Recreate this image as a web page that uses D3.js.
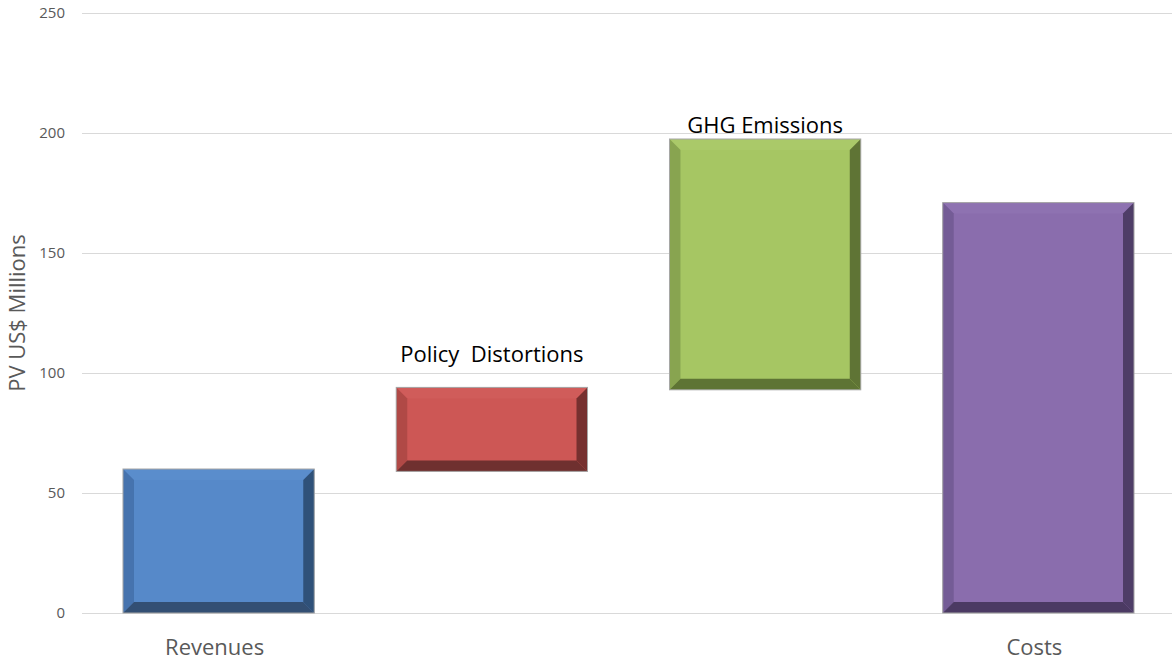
<!DOCTYPE html>
<html><head><meta charset="utf-8">
<script src="https://cdn.jsdelivr.net/npm/d3@7"></script>
<style>html,body{margin:0;padding:0;background:#fff;}svg{display:block;}</style>
</head><body>
<svg id="c" width="1172" height="662"></svg>
<script>
const categories = ["Revenues","Policy Distortions","GHG Emissions","Costs"];
const barStart = [0, 59, 93, 0];
const barEnd = [60, 94, 197.5, 171];
const yTicks = [0,50,100,150,200,250];
const axisLabels = ["Revenues","","","Costs"];
const topLabels = ["","Policy  Distortions","GHG Emissions",""];
const topLabelValues = [0, 104.5, 200, 0];
const faceColors = ["#5689C9","#CD5755","#A6C663","#8A6DAD"];
const topColors = ["#5A8DCC","#D05C5A","#AAC969","#8E72B1"];
const leftColors = ["#4673AE","#B04946","#88A450","#745C96"];
const rightColors = ["#2F5179","#76302F","#5F7435","#4E3D67"];
const bottomColors = ["#334F73","#6F302F","#5E7434","#4B3A63"];

const svg = d3.select("#c");
const x = d3.scaleBand().domain(categories).range([82,1175]).paddingInner(0.3).paddingOuter(0.15);
const y = d3.scaleLinear().domain([0,250]).range([613,13]);
const font = "'Open Sans', sans-serif";

// gridlines
svg.append("g").selectAll("line").data(yTicks).join("line")
  .attr("x1",82).attr("x2",1172)
  .attr("y1",d=>y(d)+0.5).attr("y2",d=>y(d)+0.5)
  .attr("stroke","#d9d9d9").attr("stroke-width",1);

// y tick labels
svg.append("g").selectAll("text").data(yTicks).join("text")
  .attr("x",65).attr("y",d=>y(d)+5)
  .attr("text-anchor","end")
  .attr("font-family",font).attr("font-size",15)
  .attr("fill","#595959").text(d=>d);

// y axis title
svg.append("text")
  .attr("transform","translate(25,313) rotate(-90)")
  .attr("text-anchor","middle")
  .attr("font-family",font).attr("font-size",22)
  .attr("fill","#595959").text("PV US$ Millions");

const b = 11;
const g = svg.append("g");
categories.forEach((c,i)=>{
  const x0 = x(c), x1 = x(c)+x.bandwidth();
  const yt = y(barEnd[i]), yb = y(barStart[i]);
  const grp = g.append("g");
  grp.append("rect").attr("x",x0).attr("y",yt).attr("width",x1-x0).attr("height",yb-yt).attr("fill",faceColors[i]);
  const poly = (pts,col)=>grp.append("polygon").attr("points",pts.map(p=>p.join(",")).join(" ")).attr("fill",col);
  poly([[x0,yt],[x1,yt],[x1-b,yt+b],[x0+b,yt+b]], topColors[i]);
  poly([[x0,yt],[x0+b,yt+b],[x0+b,yb-b],[x0,yb]], leftColors[i]);
  poly([[x1,yt],[x1,yb],[x1-b,yb-b],[x1-b,yt+b]], rightColors[i]);
  poly([[x0,yb],[x0+b,yb-b],[x1-b,yb-b],[x1,yb]], bottomColors[i]);
  grp.append("rect").attr("x",x0).attr("y",yt).attr("width",x1-x0).attr("height",yb-yt)
    .attr("fill","none").attr("stroke","#a6a6a6").attr("stroke-width",1);
});

// category labels below axis
svg.append("g").selectAll("text").data(categories).join("text")
  .attr("x",d=>x(d)+x.bandwidth()/2 - 4).attr("y",655)
  .attr("text-anchor","middle")
  .attr("font-family",font).attr("font-size",22)
  .attr("fill","#595959").text((d,i)=>axisLabels[i]);

// labels above bars
svg.append("g").selectAll("text").data(categories).join("text")
  .attr("x",d=>x(d)+x.bandwidth()/2).attr("y",(d,i)=>y(topLabelValues[i]))
  .attr("text-anchor","middle")
  .attr("font-family",font).attr("font-size",22)
  .attr("fill","#000").style("white-space","pre").attr("xml:space","preserve")
  .text((d,i)=>topLabels[i]);
</script>
</body></html>
